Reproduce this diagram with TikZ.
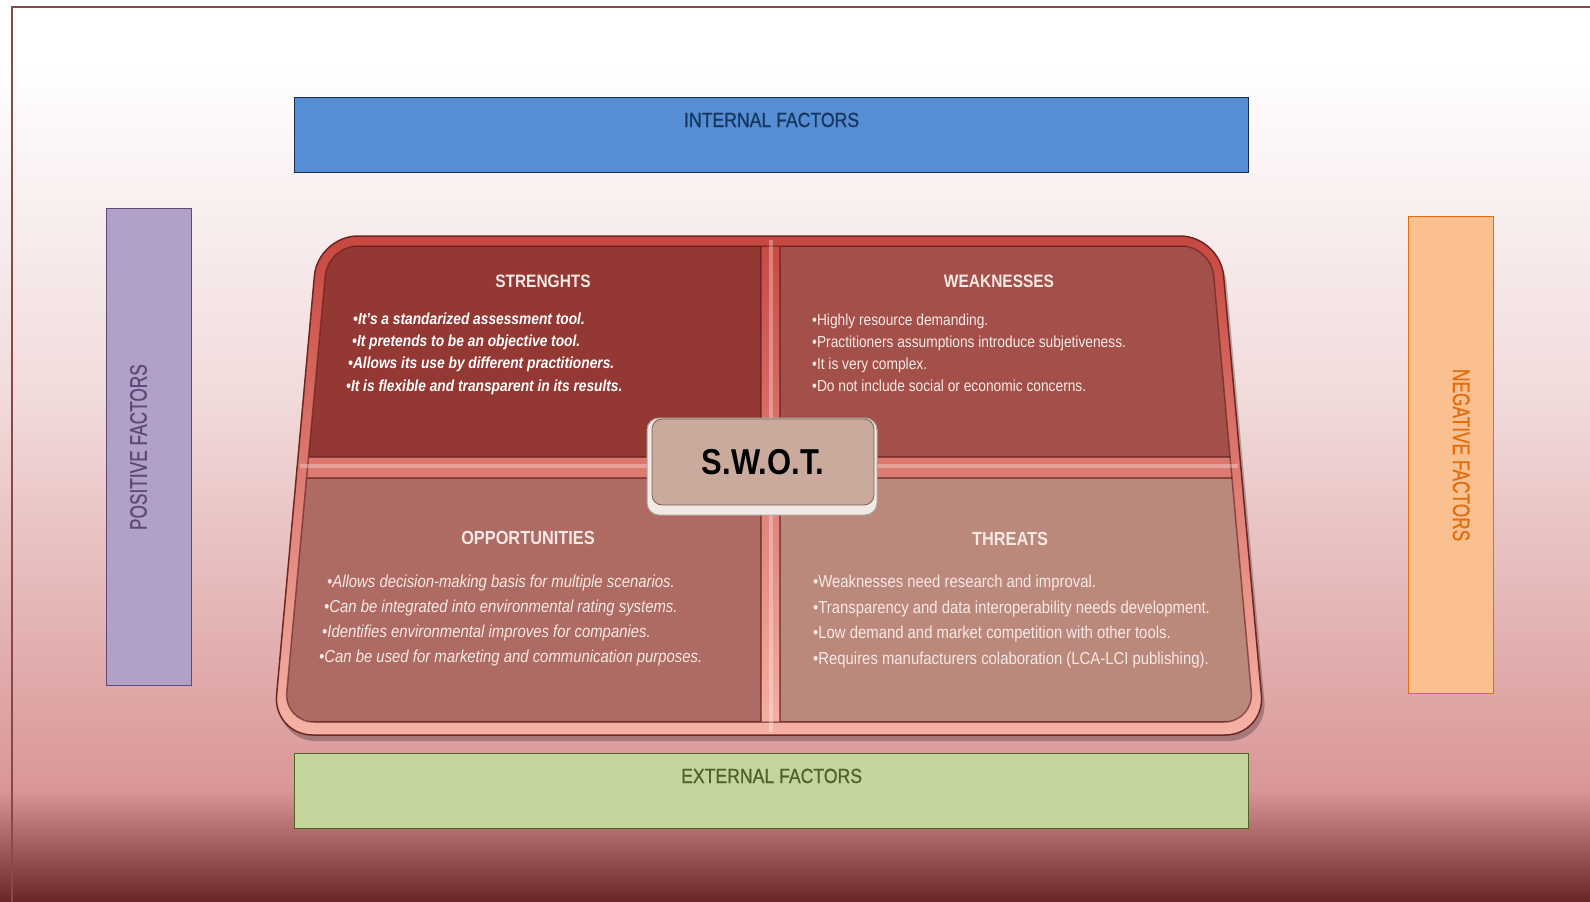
\documentclass[tikz,border=0pt]{standalone}
\usepackage{fontspec}
\setmainfont{Liberation Sans}[FakeStretch=0.86]
\newfontfamily\labelfont{Liberation Sans}[FakeStretch=0.86, FakeBold=0.8]
\newfontfamily\narrowfont{Liberation Sans}[FakeStretch=0.72, FakeBold=0.6]
\usetikzlibrary{positioning}
\definecolor{bgmid}{RGB}{241,218,218}
\definecolor{bglow}{RGB}{218,150,150}
\definecolor{bgend}{RGB}{104,36,38}
\definecolor{frameline}{RGB}{140,72,72}
\definecolor{intfill}{RGB}{85,142,213}
\definecolor{intline}{RGB}{23,45,80}
\definecolor{inttext}{RGB}{23,54,93}
\definecolor{extfill}{RGB}{195,214,155}
\definecolor{extline}{RGB}{79,98,40}
\definecolor{posfill}{RGB}{178,161,199}
\definecolor{posline}{RGB}{96,73,122}
\definecolor{negfill}{RGB}{250,192,144}
\definecolor{negline}{RGB}{228,108,10}
\definecolor{rimtop}{RGB}{200,72,64}
\definecolor{rimbot}{RGB}{246,178,166}
\definecolor{rimedge}{RGB}{110,38,34}
\definecolor{sfill}{RGB}{148,56,52}
\definecolor{wfill}{RGB}{164,80,74}
\definecolor{ofill}{RGB}{174,107,99}
\definecolor{tfill}{RGB}{187,136,124}
\definecolor{paneledge}{RGB}{95,30,28}
\definecolor{quadtext}{RGB}{248,232,229}
\definecolor{swotrim}{RGB}{242,234,228}
\definecolor{swotfill}{RGB}{202,170,157}
\definecolor{swotedge}{RGB}{120,96,88}
\tikzset{
  factorbox/.style={line width=1.2pt, minimum width=954pt, minimum height=75pt, inner sep=0pt, anchor=north west},
  sidebox/.style={line width=1.2pt, minimum width=85pt, minimum height=477pt, inner sep=0pt, anchor=north west},
  factorlabel/.style={font=\labelfont\fontsize{20.5pt}{20.5pt}\selectfont, anchor=base, inner sep=0pt},
  sidelabel/.style={font=\narrowfont\fontsize{24pt}{24pt}\selectfont, inner sep=0pt},
  quadtitle/.style={font=\bfseries\fontsize{18pt}{18pt}\selectfont, text=quadtext, anchor=base, inner sep=0pt},
  lowtitle/.style={quadtitle, font=\bfseries\fontsize{19pt}{19pt}\selectfont},
  itemtext/.style={text=quadtext, anchor=base west, inner sep=0pt},
  stritem/.style={itemtext, text=white, font=\bfseries\itshape\fontsize{16pt}{16pt}\selectfont},
  weakitem/.style={itemtext, font=\fontsize{16pt}{16pt}\selectfont},
  oppitem/.style={itemtext, font=\itshape\fontsize{17.3pt}{17.3pt}\selectfont},
  thritem/.style={itemtext, font=\fontsize{17.3pt}{17.3pt}\selectfont},
  quadedge/.style={draw=paneledge, line width=2.5pt, draw opacity=0.6},
  divlight/.style={draw=white, line width=4pt, draw opacity=0.3},
  swotouter/.style={rounded corners=12pt, fill=swotrim, draw=swotedge!60, line width=1pt, minimum width=230pt, minimum height=97pt},
  swotinner/.style={rounded corners=10pt, fill=swotfill, draw=swotedge, line width=0.8pt, minimum width=222pt, minimum height=86pt, font=\bfseries\fontsize{36pt}{36pt}\selectfont, text=black}
}

\begin{document}
\begin{tikzpicture}[x=1pt,y=-1pt]
  \useasboundingbox (0,0) rectangle (1590,902);
  % background
  \fill[white] (0,0) rectangle (1590,61);
  \shade[top color=white, bottom color=bgmid] (0,60) rectangle (1590,401);
  \shade[top color=bgmid, bottom color=bglow] (0,400) rectangle (1590,791);
  \shade[top color=bglow, bottom color=bgend] (0,790) rectangle (1590,902);
  \draw[frameline, line width=1.5pt] (12,902) -- (12,7) -- (1590,7);

  % factor boxes
  \node[factorbox, fill=intfill, draw=intline] (intbox) at (294,97) {};
  \node[factorlabel, text=inttext] (intlabel) at ([yshift=-30pt]intbox.north) {INTERNAL FACTORS};
  \node[factorbox, fill=extfill, draw=extline] (extbox) at (294,753) {};
  \node[factorlabel, text=extline] (extlabel) at ([yshift=-30pt]extbox.north) {EXTERNAL FACTORS};
  \node[sidebox, fill=posfill, draw=posline] (posbox) at (106,208) {};
  \node[sidelabel, text=posline, rotate=90] (poslabel) at ([xshift=32.5pt]posbox.west) {POSITIVE FACTORS};
  \node[sidebox, fill=negfill, draw=negline] (negbox) at (1408,216) {};
  \node[sidelabel, text=negline, rotate=-90] (neglabel) at ([xshift=-33pt]negbox.east) {NEGATIVE FACTORS};

  % swot panel
  \fill[black, opacity=0.25, rounded corners=40pt] (321,243) -- (1223,243) -- (1268,741) -- (276,741) -- cycle;
  \shadedraw[top color=rimtop, bottom color=rimbot, draw=rimedge, line width=1.5pt, rounded corners=40pt]
    (318,236) -- (1220,236) -- (1265,735) -- (273,735) -- cycle;
  \begin{scope}
    \clip[rounded corners=30pt] (328,246) -- (1211,246) -- (1254,722) -- (284,722) -- cycle;
    \fill[sfill] (250,246) rectangle (761,457);
    \fill[wfill] (780,246) rectangle (1300,457);
    \fill[ofill] (250,478) rectangle (761,722);
    \fill[tfill] (780,478) rectangle (1300,722);
    \draw[quadedge] (250,246) rectangle (761,457);
    \draw[quadedge] (780,246) rectangle (1300,457);
    \draw[quadedge] (250,478) rectangle (761,722);
    \draw[quadedge] (780,478) rectangle (1300,722);
  \end{scope}
  \draw[paneledge, line width=1.5pt, opacity=0.6, rounded corners=30pt] (328,246) -- (1211,246) -- (1254,722) -- (284,722) -- cycle;
  \draw[divlight] (771,240) -- (771,732);
  \draw[divlight] (300,466) -- (1238,466);

  \node[swotouter] (swotbox) at (762,466.5) {};
  \node[swotinner] (swotlabel) at (763,462) {S.W.O.T.};

  % quadrant texts
  \node[quadtitle] (strtitle) at (543,287) {STRENGHTS};
  \foreach \x/\y/\t [count=\i] in {353/324/{It's a standarized assessment tool.}, 352/346/{It pretends to be an objective tool.}, 348/368/{Allows its use by different practitioners.}, 346/391/{It is flexible and transparent in its results.}}
    \node[stritem] (str\i) at (\x,\y) {•\t};

  \node[quadtitle] (weaktitle) at (999,287) {WEAKNESSES};
  \foreach \y/\t [count=\i] in {325/{Highly resource demanding.}, 347/{Practitioners assumptions introduce subjetiveness.}, 369/{It is very complex.}, 391/{Do not include social or economic concerns.}}
    \node[weakitem] (weak\i) at (812,\y) {•\t};

  \node[lowtitle] (opptitle) at (528,544) {OPPORTUNITIES};
  \foreach \x/\y/\t [count=\i] in {327/587/{Allows decision-making basis for multiple scenarios.}, 324/612/{Can be integrated into environmental rating systems.}, 322/637/{Identifies environmental improves for companies.}, 319/662/{Can be used for marketing and communication purposes.}}
    \node[oppitem] (opp\i) at (\x,\y) {•\t};

  \node[lowtitle] (thrtitle) at (1010,545) {THREATS};
  \foreach \y/\t [count=\i] in {587/{Weaknesses need  research and improval.}, 613/{Transparency and data interoperability needs development.}, 638/{Low demand and market competition with other tools.}, 664/{Requires manufacturers colaboration (LCA-LCI publishing).}}
    \node[thritem] (thr\i) at (813,\y) {•\t};
\end{tikzpicture}
\end{document}
